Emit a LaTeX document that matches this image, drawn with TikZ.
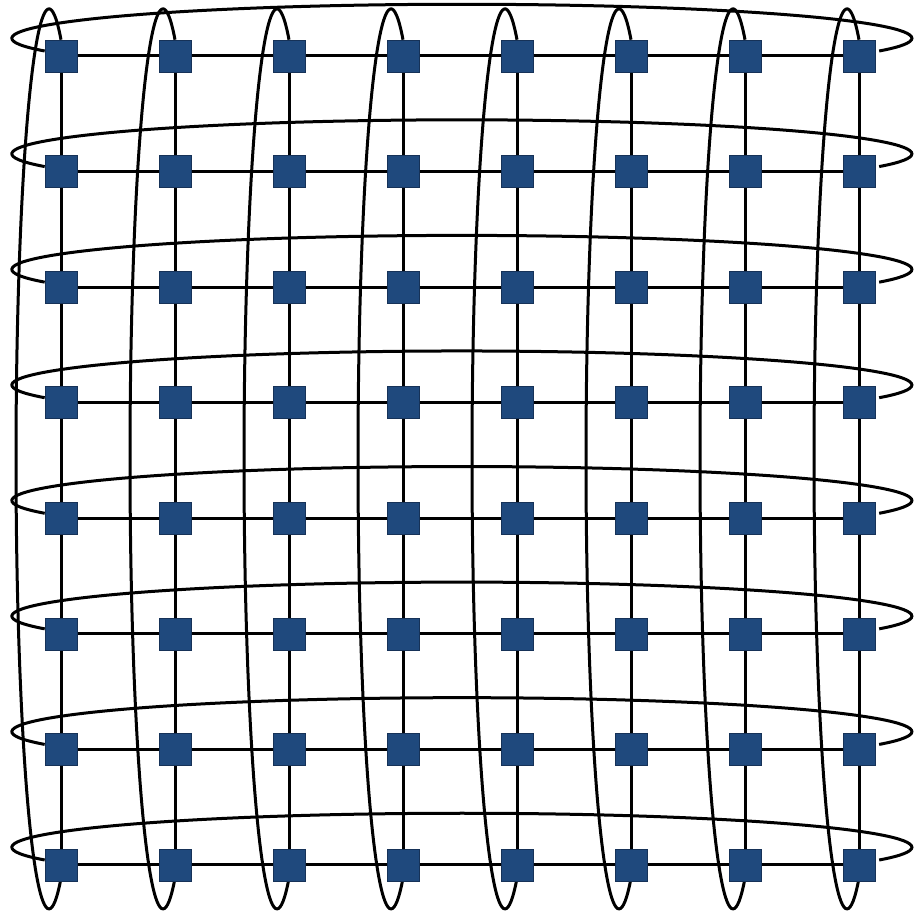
\documentclass[tikz,border=0pt]{standalone}
\pgfdeclarelayer{background}
\pgfsetlayers{background,main}
\definecolor{nodeblue}{RGB}{31,73,125}
\definecolor{nodeedge}{RGB}{22,50,88}
\begin{document}
\begin{tikzpicture}[x=1pt,y=1pt,
  wire/.style={line width=3pt, black},
  cell/.style={rectangle, minimum size=32pt, inner sep=0pt, fill=nodeblue, draw=nodeedge, line width=0.6pt}]
\useasboundingbox (0,0) rectangle (919,-912);
\foreach \r in {1,...,8}
  \foreach \c in {1,...,8}
    \node[cell] (n\r-\c) at ({61+114*(\c-1)}, {-(56+115.57*(\r-1))}) {};
\begin{pgfonlayer}{background}
  \foreach \r in {1,...,8} {
    \foreach \c [evaluate=\c as \d using int(\c+1)] in {1,...,7} {
      \draw[wire] (n\r-\c) -- (n\r-\d);
      \draw[wire] (n\c-\r) -- (n\d-\r);
    }
    % horizontal wrap-around loop of row \r
    \draw[wire] ([yshift=5pt]n\r-1.west) arc[start angle=202, end angle=-22, x radius=450, y radius=34];
    % vertical wrap-around loop of column \r
    \draw[wire] (n1-\r.north) arc[start angle=68.7, end angle=291.3, x radius=33, y radius=450];
  }
\end{pgfonlayer}
\end{tikzpicture}
\end{document}
